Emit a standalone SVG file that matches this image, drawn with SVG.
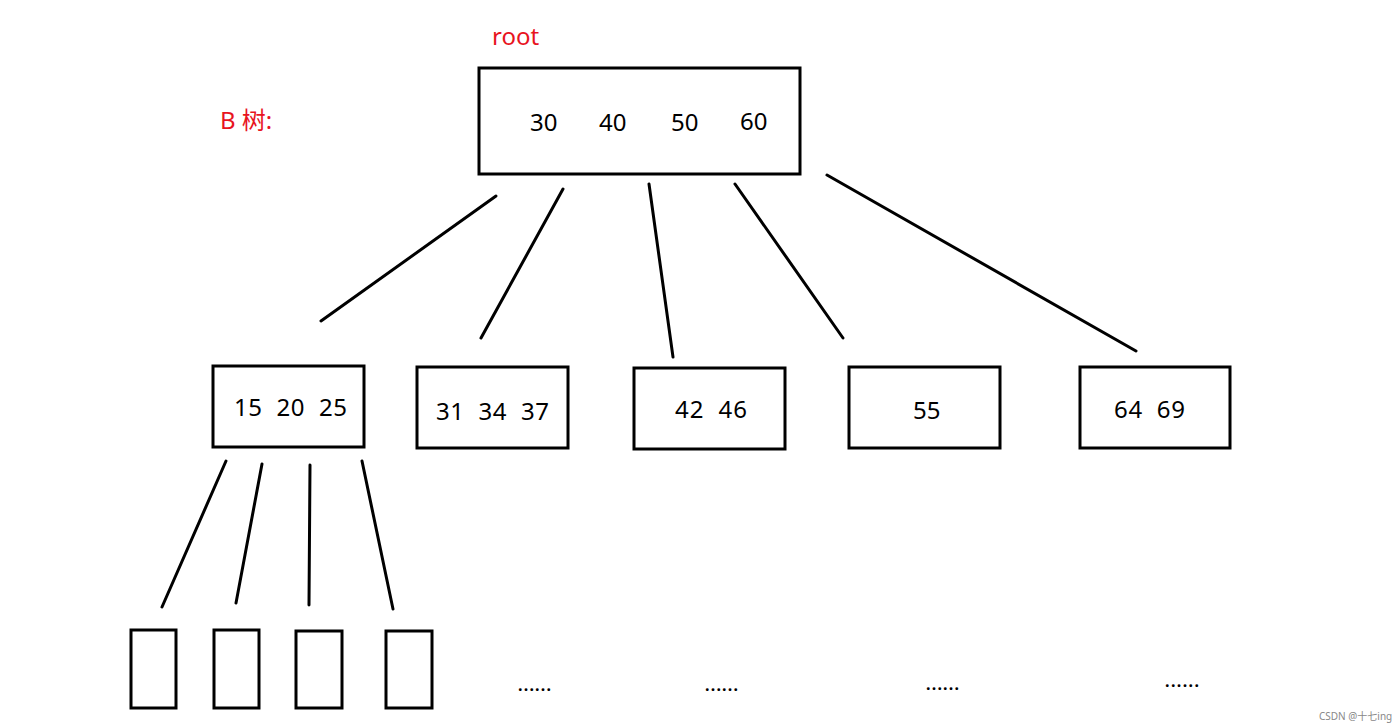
<svg xmlns="http://www.w3.org/2000/svg" width="1400" height="727" viewBox="0 0 1400 727">
<style>
.box{fill:#fff;stroke:#000;stroke-width:3}
.t{font-family:"Noto Sans","Noto Sans CJK SC",sans-serif;font-size:24px;fill:#000}
.r{font-family:"Noto Sans","Noto Sans CJK SC",sans-serif;font-size:24px;fill:#e8141e}
.d{font-family:"Noto Sans",sans-serif;font-size:16px;fill:#000;font-weight:bold}
.w{font-family:"Noto Sans","Noto Sans CJK SC",sans-serif;font-size:10px;fill:#888}
#edges line{stroke:#000;stroke-width:3;stroke-linecap:round}
</style>
<rect width="1400" height="727" fill="#fff"/>
<text class="r" x="492" y="45">root</text>
<text class="r" x="220" y="129">B 树:</text>
<g id="edges">
<line x1="496" y1="196" x2="321" y2="321"/>
<line x1="563" y1="189" x2="481" y2="338"/>
<line x1="649" y1="184" x2="673" y2="357"/>
<line x1="735" y1="184" x2="843" y2="338"/>
<line x1="827" y1="175" x2="1136" y2="351"/>
<line x1="226" y1="461" x2="162" y2="607"/>
<line x1="262" y1="464" x2="236" y2="603"/>
<line x1="310" y1="465" x2="309" y2="605"/>
<line x1="362" y1="461" x2="393" y2="609"/>
</g>
<g id="root">
<rect class="box" x="479" y="68" width="321" height="106"/>
<text class="t" x="530" y="131">30</text>
<text class="t" x="599" y="131">40</text>
<text class="t" x="671" y="131">50</text>
<text class="t" x="740" y="130">60</text>
</g>
<g id="n1"><rect class="box" x="213" y="366" width="151" height="81"/><text class="t" x="234" y="416" textLength="113" lengthAdjust="spacing" xml:space="preserve">15  20  25</text></g>
<g id="n2"><rect class="box" x="417" y="367" width="151" height="81"/><text class="t" x="436" y="420" textLength="113" lengthAdjust="spacing" xml:space="preserve">31  34  37</text></g>
<g id="n3"><rect class="box" x="634" y="368" width="151" height="81"/><text class="t" x="675" y="418" textLength="72" lengthAdjust="spacing" xml:space="preserve">42  46</text></g>
<g id="n4"><rect class="box" x="849" y="367" width="151" height="81"/><text class="t" x="913" y="419">55</text></g>
<g id="n5"><rect class="box" x="1080" y="367" width="150" height="81"/><text class="t" x="1114" y="418" textLength="71" lengthAdjust="spacing" xml:space="preserve">64  69</text></g>
<g id="leaf1"><rect class="box" x="131" y="630" width="45" height="78"/></g>
<g id="leaf2"><rect class="box" x="214" y="630" width="45" height="78"/></g>
<g id="leaf3"><rect class="box" x="296" y="631" width="46" height="77"/></g>
<g id="leaf4"><rect class="box" x="386" y="631" width="46" height="77"/></g>
<text class="d" x="518" y="691" textLength="33" lengthAdjust="spacing">......</text>
<text class="d" x="705" y="691" textLength="33" lengthAdjust="spacing">......</text>
<text class="d" x="926" y="690" textLength="33" lengthAdjust="spacing">......</text>
<text class="d" x="1165" y="687" textLength="34" lengthAdjust="spacing">......</text>
<text class="w" x="1319" y="720">CSDN @十七ing</text>
</svg>
